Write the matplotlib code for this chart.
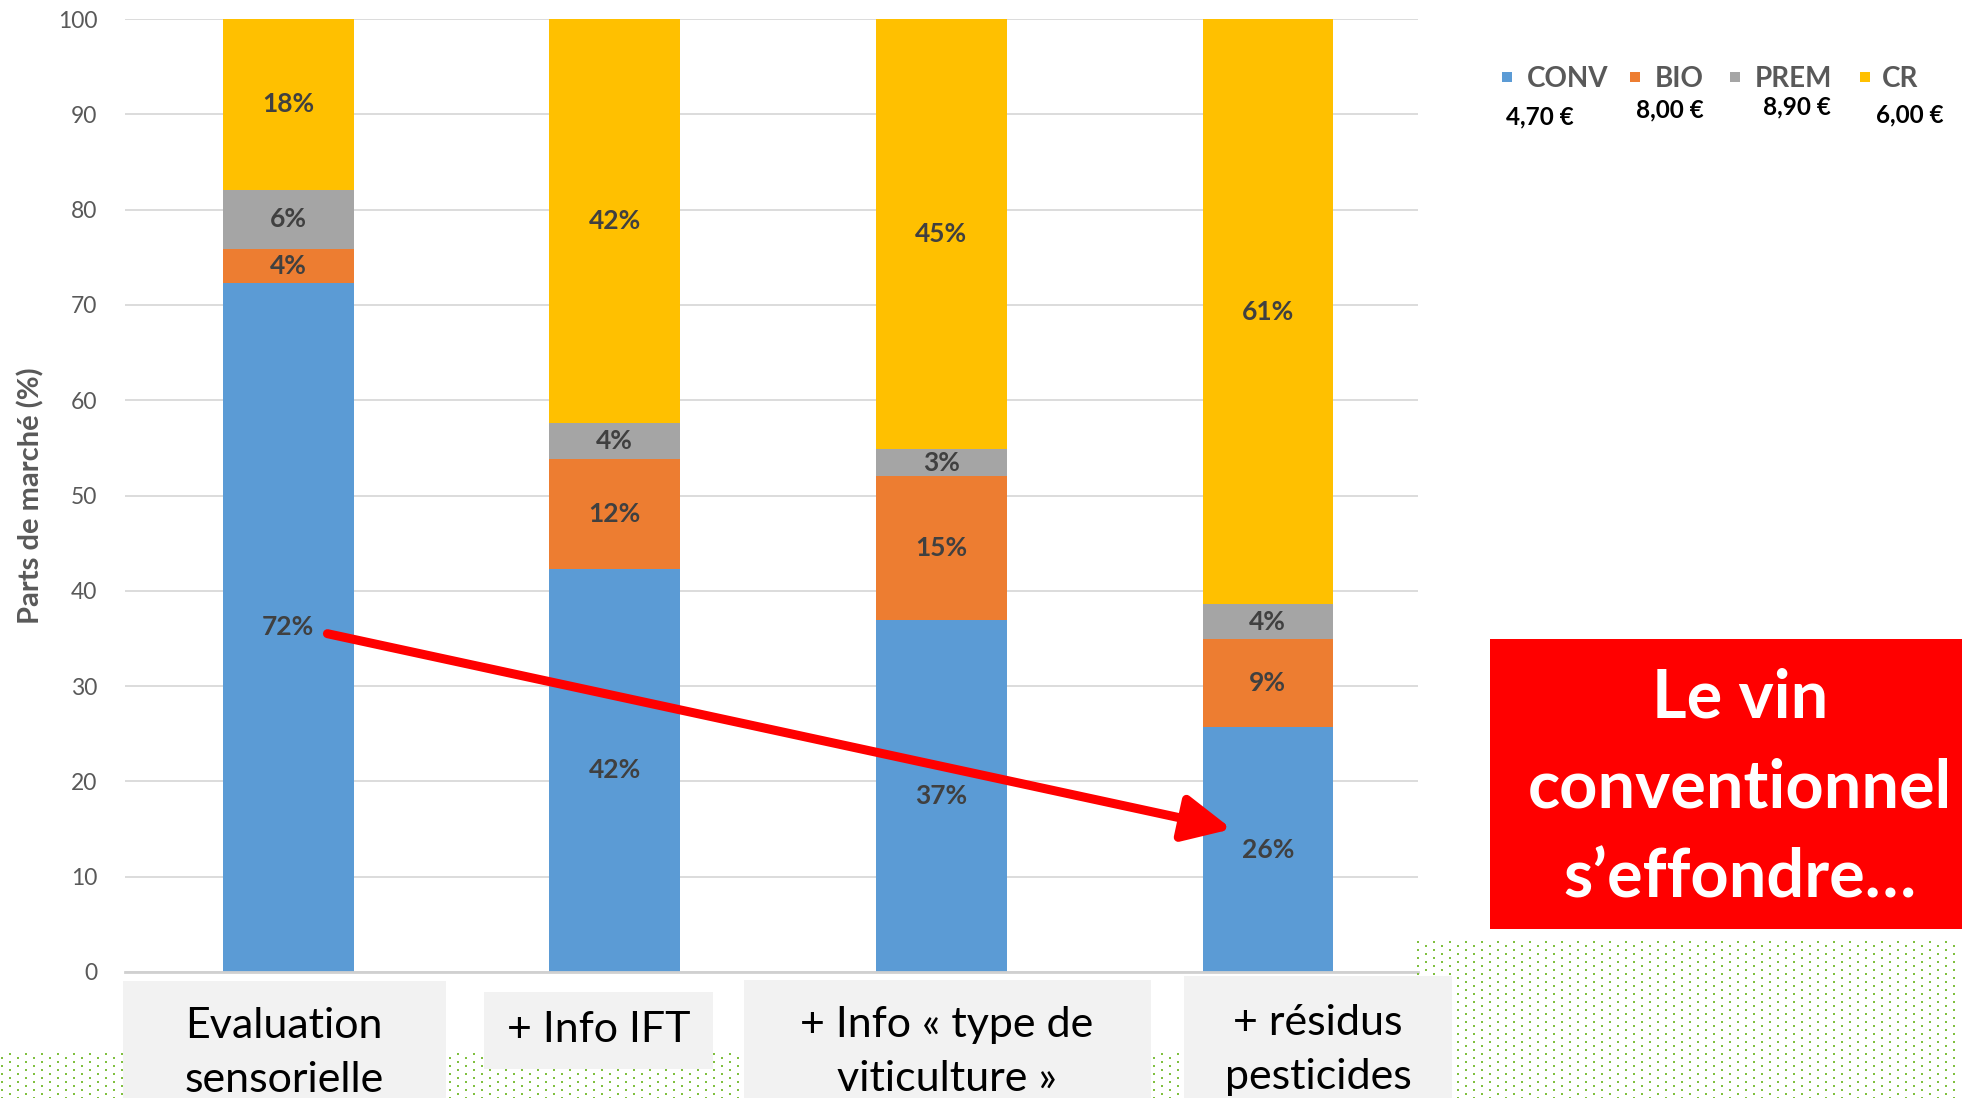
import numpy as np
import matplotlib
matplotlib.use('Agg')
from matplotlib import pyplot as plt
from matplotlib.patches import Rectangle

plt.rcParams['font.family'] = ['Lato', 'DejaVu Sans']

# data
categories = ['Evaluation\nsensorielle', '+ Info IFT',
              '+ Info « type de\nviticulture »', '+ résidus\npesticides']
series = ['CONV', 'BIO', 'PREM', 'CR']
prices = ['4,70 €', '8,00 €', '8,90 €', '6,00 €']
conv = [72.3, 42.3, 36.9, 25.7]
bio = [3.6, 11.5, 15.1, 9.2]
prem = [6.2, 3.8, 2.9, 3.7]
cr = [17.9, 42.4, 45.1, 61.4]
colors = ['#5B9BD5', '#ED7D31', '#A5A5A5', '#FFC000']

W, H = 1962, 1098
fig = plt.figure(figsize=(W / 100, H / 100), dpi=100)
ax = fig.add_axes([125 / W, (H - 972) / H, 1293 / W, (972 - 19) / H])

x = np.arange(len(categories))
bottom = np.zeros(len(categories))
for name, vals, col in zip(series, [conv, bio, prem, cr], colors):
    bars = ax.bar(x, vals, 0.4, bottom=bottom, color=col, label=name, zorder=2)
    ax.bar_label(bars, labels=['%d%%' % round(v) for v in vals], label_type='center',
                 color='#404040', fontsize=19, fontweight='bold')
    bottom += np.array(vals)

ax.set_xlim(-0.5, 3.46)
ax.set_ylim(0, 100)
ax.set_yticks(range(0, 101, 10))
ax.set_xticks([])
ax.tick_params(axis='y', length=0, pad=20, labelsize=16.5, labelcolor='#595959')
ax.yaxis.grid(True, color='#D9D9D9', lw=1.3)
ax.set_axisbelow(True)
for s in ['top', 'right', 'left']:
    ax.spines[s].set_visible(False)
ax.spines['bottom'].set_color('#D0D0D0')
ax.spines['bottom'].set_linewidth(2)
ax.set_ylabel('Parts de marché (%)', fontsize=21, fontweight='bold', color='#595959')
ax.yaxis.set_label_coords(-0.062, 0.5)

# red arrow on CONV drop
ax.annotate('', xy=(2.89, 15.0), xytext=(0.12, 35.5),
            arrowprops=dict(arrowstyle='-|>,head_length=2.9,head_width=1.4',
                            color='#FF0000', lw=6.5, shrinkA=0, shrinkB=0),
            zorder=5)

# overlay in pixel coordinates
ov = fig.add_axes([0, 0, 1, 1], zorder=3)
ov.set_xlim(0, W)
ov.set_ylim(H, 0)
ov.axis('off')

# green dotted background
rows = np.arange(942, H + 1, 4)
px, py = [], []
for k, yy in enumerate(rows):
    xs = np.arange(2 + 8 * ((k + 1) % 2), W, 16)
    keep = xs >= 1418 if yy < 1053 else np.ones(len(xs), bool)
    px.extend(xs[keep])
    py.extend([yy] * keep.sum())
ov.scatter(px, py, s=2.6, marker='s', color='#80C040', linewidths=0)

# category label boxes
boxes = [(123, 981, 446, 1100), (484, 992, 713, 1069),
         (744, 980, 1151, 1100), (1184, 976, 1452, 1100)]
label_pos = [(284, 1053), (599, 1030), (947, 1052), (1318, 1050)]
for (x0, y0, x1, y1), (cx, cy), cat in zip(boxes, label_pos, categories):
    ov.add_patch(Rectangle((x0, y0), x1 - x0, y1 - y0, color='#F2F2F2', lw=0))
    ov.text(cx, cy, cat, ha='center', va='center', fontsize=31, color='black',
            linespacing=1.5, multialignment='center')

# legend with prices
sq_x = [1502, 1630, 1730, 1860]
txt_x = [1527, 1655, 1755, 1882]
price_pos = [(1540, 117), (1670, 110), (1797, 107), (1910, 115)]
for name, col, sx, tx, (ppx, ppy), pr in zip(series, colors, sq_x, txt_x, price_pos, prices):
    ov.add_patch(Rectangle((sx, 72), 10, 10, color=col, lw=0))
    ov.text(tx, 79, name, ha='left', va='center', fontsize=20, fontweight='bold',
            color='#595959')
    ov.text(ppx, ppy, pr, ha='center', va='center', fontsize=17.5, fontweight='bold',
            color='black')

# red message box
ov.add_patch(Rectangle((1490, 639), 480, 290, color='#FF0000', lw=0))
for line, base in zip(['Le vin', 'conventionnel', 's’effondre…'], [718, 808, 897]):
    ov.text(1740, base, line, ha='center', va='baseline', fontsize=48,
            fontweight='bold', color='white')

fig.savefig('out.png', dpi=100)
